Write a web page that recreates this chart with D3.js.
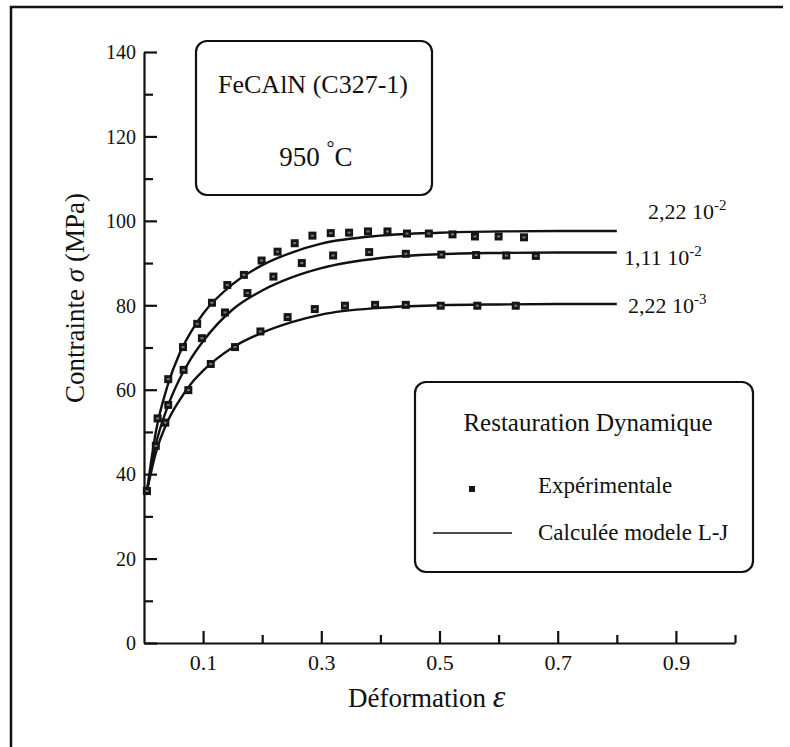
<!DOCTYPE html>
<html>
<head>
<meta charset="utf-8">
<script src="https://cdnjs.cloudflare.com/ajax/libs/d3/7.8.5/d3.min.js"></script>
<style>
  body { margin: 0; background: #fff; }
  svg text { font-family: "Liberation Serif", "DejaVu Serif", serif; fill: #111; }
</style>
</head>
<body>
<div id="chart"></div>
<script>
// experimental points (strain, stress MPa) per strain rate
const rates = ["2,22", "1,11", "2,22"];
const rateExp = ["-2", "-2", "-3"];

const expHigh = [
  [0.005, 36], [0.023, 53.2], [0.041, 62.5], [0.066, 70.1], [0.09, 75.6],
  [0.115, 80.6], [0.141, 84.8], [0.169, 87.2], [0.199, 90.6], [0.226, 92.7],
  [0.255, 94.7], [0.285, 96.5], [0.316, 97.1], [0.347, 97.2], [0.379, 97.5],
  [0.412, 97.5], [0.445, 97.0], [0.482, 97.0], [0.522, 96.8], [0.56, 96.3],
  [0.6, 96.3], [0.643, 96.1]
];
const expMid = [
  [0.005, 36], [0.041, 56.4], [0.067, 64.7], [0.098, 72.2], [0.137, 78.3],
  [0.175, 82.9], [0.219, 86.8], [0.267, 90.0], [0.32, 91.8], [0.381, 92.6],
  [0.443, 92.2], [0.503, 92.0], [0.562, 91.9], [0.613, 91.8], [0.663, 91.7]
];
const expLow = [
  [0.005, 36], [0.02, 46.7], [0.036, 52.2], [0.075, 59.9], [0.113, 66.1],
  [0.154, 70.1], [0.197, 73.8], [0.243, 77.2], [0.289, 79.1], [0.34, 79.9],
  [0.391, 80.1], [0.443, 80.1], [0.502, 79.9], [0.564, 79.9], [0.629, 79.9]
];

// model curves (L-J)
const modelStrain = [0.005, 0.02, 0.04, 0.06, 0.08, 0.1, 0.15, 0.2, 0.25, 0.3, 0.4, 0.5, 0.6, 0.7, 0.8];
const modelHigh = [36, 50, 61, 68.5, 73.8, 78, 85, 89.5, 92.5, 94.6, 96.5, 97.2, 97.5, 97.6, 97.6];
const modelMid  = [36, 47, 56, 62.5, 67.5, 71.5, 79, 83.5, 86.6, 88.8, 91.2, 92.1, 92.4, 92.5, 92.5];
const modelLow  = [36, 45, 52.5, 57.5, 61.5, 64.5, 70, 73.5, 76, 77.8, 79.4, 80, 80.2, 80.3, 80.3];

const yMajor = [0, 20, 40, 60, 80, 100, 120, 140];
const yMinor = [10, 30, 50, 70, 90, 110, 130];
const xLabelled = [0.1, 0.3, 0.5, 0.7, 0.9];
const xMinor = [0.2, 0.4, 0.6, 0.8, 1.0];

const W = 790, H = 747;

const svg = d3.select("#chart").append("svg")
  .attr("width", W).attr("height", H);

// outer frame of the scanned figure
svg.append("path")
  .attr("d", "M11,747 L11,7 L783,7")
  .attr("fill", "none").attr("stroke", "#111").attr("stroke-width", 2.5);

const x = d3.scaleLinear().domain([0, 1]).range([144, 735]);
const y = d3.scaleLinear().domain([0, 140]).range([643, 52]);

// y axis
const gy = svg.append("g").attr("transform", `translate(${x(0)},0)`);
gy.call(d3.axisLeft(y).tickValues(yMajor).tickSize(-13).tickPadding(8).tickSizeOuter(0));
svg.append("g").attr("transform", `translate(${x(0)},0)`)
  .call(d3.axisLeft(y).tickValues(yMinor).tickSize(-9).tickFormat("").tickSizeOuter(0))
  .select(".domain").remove();
gy.selectAll("text").attr("font-size", 20).attr("dy", "0.34em");

// x axis
const gx = svg.append("g").attr("transform", `translate(0,${y(0)})`);
gx.call(d3.axisBottom(x).tickValues(xLabelled).tickSize(-12).tickPadding(11)
  .tickFormat(d3.format(".1f")).tickSizeOuter(0));
svg.append("g").attr("transform", `translate(0,${y(0)})`)
  .call(d3.axisBottom(x).tickValues(xMinor).tickSize(-8).tickFormat("").tickSizeOuter(0))
  .select(".domain").remove();
gx.selectAll("text").attr("font-size", 22);

svg.selectAll(".domain, .tick line").attr("stroke", "#111").attr("stroke-width", 2.2);
svg.selectAll(".tick text").attr("fill", "#111").attr("font-family", "Liberation Serif");

// axis titles
const xt = svg.append("text").attr("x", 348).attr("y", 707).attr("font-size", 27);
xt.append("tspan").text("Déformation ");
xt.append("tspan").attr("font-style", "italic").attr("font-size", 32).text("ε");

const yt = svg.append("text")
  .attr("transform", "translate(84,298) rotate(-90)")
  .attr("text-anchor", "middle").attr("font-size", 27);
yt.append("tspan").text("Contrainte ");
yt.append("tspan").attr("font-style", "italic").text("σ");
yt.append("tspan").text("  (MPa)");

// model curves
const modelSets = [modelHigh, modelMid, modelLow];
const line = d3.line()
  .x(d => x(d[0])).y(d => y(d[1]))
  .curve(d3.curveMonotoneX);
modelSets.forEach(vals => {
  svg.append("path")
    .datum(modelStrain.map((s, i) => [s, vals[i]]))
    .attr("d", line)
    .attr("fill", "none").attr("stroke", "#111").attr("stroke-width", 2.4);
});

// experimental squares
const expSets = [expHigh, expMid, expLow];
const sq = 8;
expSets.forEach(pts => {
  svg.append("g").selectAll("rect").data(pts).join("rect")
    .attr("x", d => x(d[0]) - sq / 2).attr("y", d => y(d[1]) - sq / 2)
    .attr("width", sq).attr("height", sq).attr("fill", "#151515");
  svg.append("g").selectAll("rect").data(pts).join("rect")
    .attr("x", d => x(d[0]) - 1.5).attr("y", d => y(d[1]) - 1)
    .attr("width", 3).attr("height", 2).attr("fill", "#777");
});

// strain-rate labels at line ends
const labelPos = [[648, 219], [624, 265], [628, 313]];
rates.forEach((r, i) => {
  const t = svg.append("text").attr("x", labelPos[i][0]).attr("y", labelPos[i][1])
    .attr("font-size", 22);
  t.append("tspan").text(r + " 10");
  t.append("tspan").attr("dy", -9).attr("font-size", 15).text(rateExp[i]);
});

// title box
svg.append("rect").attr("x", 196).attr("y", 41).attr("width", 236).attr("height", 154)
  .attr("rx", 11).attr("fill", "none").attr("stroke", "#111").attr("stroke-width", 2.2);
svg.append("text").attr("x", 313).attr("y", 93).attr("text-anchor", "middle")
  .attr("font-size", 26).text("FeCAlN (C327-1)");
const tt = svg.append("text").attr("x", 316).attr("y", 166).attr("text-anchor", "middle")
  .attr("font-size", 27);
tt.append("tspan").text("950 ");
tt.append("tspan").attr("dy", -11).attr("font-size", 20).text("°");
tt.append("tspan").attr("dy", 11).text("C");

// legend box
svg.append("rect").attr("x", 415).attr("y", 382).attr("width", 338).attr("height", 190)
  .attr("rx", 11).attr("fill", "none").attr("stroke", "#111").attr("stroke-width", 2.2);
svg.append("text").attr("x", 588).attr("y", 431).attr("text-anchor", "middle")
  .attr("font-size", 25).text("Restauration Dynamique");
svg.append("rect").attr("x", 469).attr("y", 486).attr("width", 6).attr("height", 6)
  .attr("fill", "#151515");
svg.append("text").attr("x", 538).attr("y", 493).attr("font-size", 23).text("Expérimentale");
svg.append("line").attr("x1", 433).attr("x2", 512).attr("y1", 533).attr("y2", 533)
  .attr("stroke", "#111").attr("stroke-width", 1.6);
svg.append("text").attr("x", 538).attr("y", 540).attr("font-size", 23).text("Calculée modele L-J");
</script>
</body>
</html>
